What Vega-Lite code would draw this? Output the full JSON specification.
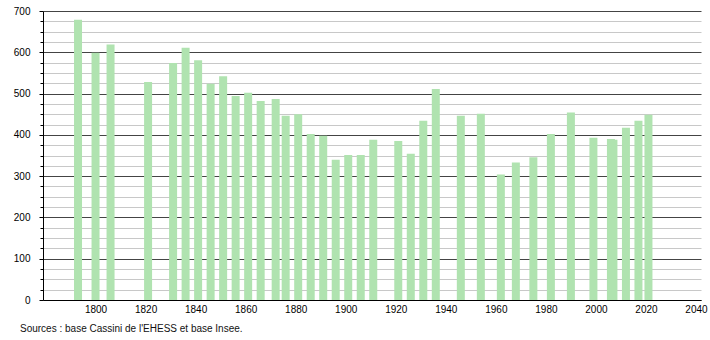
{
  "$schema": "https://vega.github.io/schema/vega-lite/v6.json",
  "width": 658,
  "height": 289,
  "autosize": "none",
  "padding": {"left": 43, "top": 11, "right": 9, "bottom": 40},
  "background": "white",
  "config": {
    "view": {"stroke": null},
    "font": "Liberation Sans",
    "axis": {"labelFont": "Liberation Sans", "labelFontSize": 10, "labelColor": "#000", "domainColor": "#000", "tickColor": "#000"}
  },
  "title": {
    "text": "Sources : base Cassini de l'EHESS et base Insee.",
    "orient": "bottom",
    "anchor": "start",
    "frame": "group",
    "dx": -23,
    "offset": 10,
    "fontSize": 10,
    "fontWeight": "normal",
    "color": "#111",
    "font": "Liberation Sans"
  },
  "data": {
    "values": [
      {"year": 1793, "pop": 679}, {"year": 1800, "pop": 599}, {"year": 1806, "pop": 619},
      {"year": 1821, "pop": 528}, {"year": 1831, "pop": 574}, {"year": 1836, "pop": 611},
      {"year": 1841, "pop": 581}, {"year": 1846, "pop": 524}, {"year": 1851, "pop": 542},
      {"year": 1856, "pop": 494}, {"year": 1861, "pop": 502}, {"year": 1866, "pop": 482},
      {"year": 1872, "pop": 487}, {"year": 1876, "pop": 446}, {"year": 1881, "pop": 450},
      {"year": 1886, "pop": 402}, {"year": 1891, "pop": 398}, {"year": 1896, "pop": 340},
      {"year": 1901, "pop": 351}, {"year": 1906, "pop": 351}, {"year": 1911, "pop": 388},
      {"year": 1921, "pop": 385}, {"year": 1926, "pop": 354}, {"year": 1931, "pop": 434},
      {"year": 1936, "pop": 511}, {"year": 1946, "pop": 446}, {"year": 1954, "pop": 451},
      {"year": 1962, "pop": 304}, {"year": 1968, "pop": 333}, {"year": 1975, "pop": 346},
      {"year": 1982, "pop": 402}, {"year": 1990, "pop": 454}, {"year": 1999, "pop": 393},
      {"year": 2006, "pop": 390}, {"year": 2007, "pop": 388}, {"year": 2012, "pop": 417},
      {"year": 2017, "pop": 434}, {"year": 2021, "pop": 449}
    ]
  },
  "resolve": {"axis": {"y": "independent", "x": "independent"}},
  "layer": [
    {
      "mark": {"type": "bar", "opacity": 0},
      "encoding": {
        "x": {"field": "year", "type": "quantitative", "scale": {"domain": [1779, 2042], "nice": false, "zero": false, "padding": 0}, "axis": null},
        "y": {
          "field": "pop", "type": "quantitative",
          "scale": {"domain": [0, 700], "nice": false, "padding": 0},
          "axis": {
            "orient": "left",
            "values": [25, 50, 75, 125, 150, 175, 225, 250, 275, 325, 350, 375, 425, 450, 475, 525, 550, 575, 625, 650, 675],
            "labels": false, "domain": false, "ticks": true, "tickSize": 3,
            "grid": true, "gridColor": "#c8c8c8", "gridWidth": 1, "title": null
          }
        }
      }
    },
    {
      "mark": {"type": "bar", "size": 8, "color": "#b0e3b0"},
      "encoding": {
        "x": {
          "field": "year", "type": "quantitative",
          "scale": {"domain": [1779, 2042], "nice": false, "zero": false, "padding": 0},
          "axis": {"orient": "bottom", "values": [1800, 1820, 1840, 1860, 1880, 1900, 1920, 1940, 1960, 1980, 2000, 2020, 2040], "format": "d", "ticks": false, "domain": true, "labelPadding": 4, "grid": false, "title": null, "labelFlush": false, "labelOverlap": false}
        },
        "y": {
          "field": "pop", "type": "quantitative",
          "scale": {"domain": [0, 700], "nice": false, "padding": 0},
          "axis": {
            "orient": "left",
            "values": [0, 100, 200, 300, 400, 500, 600, 700],
            "tickSize": 4, "labelPadding": 9, "domain": true,
            "grid": true, "gridColor": "#444", "gridWidth": 1, "title": null
          }
        }
      }
    }
  ]
}
